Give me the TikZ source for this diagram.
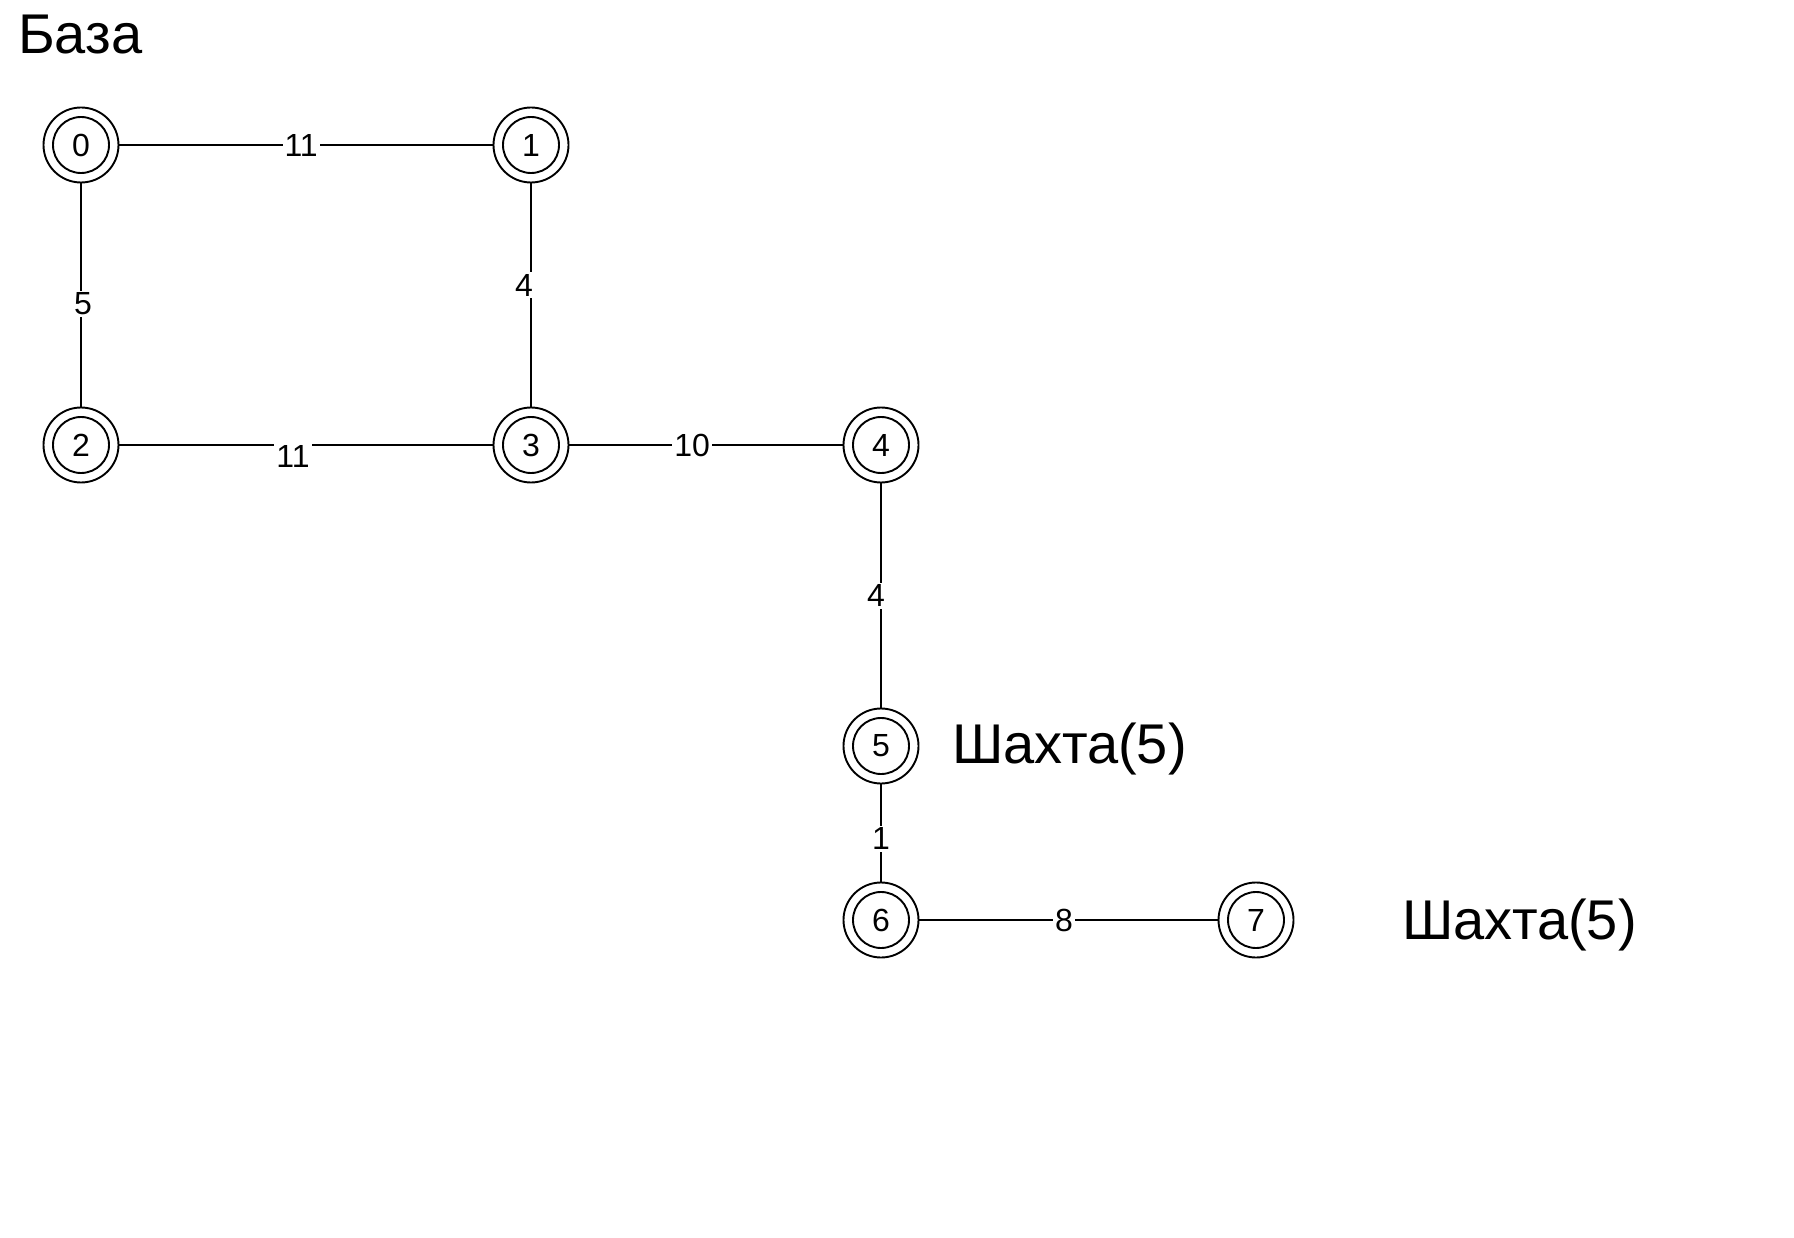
\documentclass[tikz,border=0pt]{standalone}
\usepackage{fontspec}
\setmainfont{Liberation Sans}
\begin{document}
\begin{tikzpicture}[x=1pt,y=-1pt,
  vert/.style={circle, draw, line width=1.9pt, minimum size=75pt, inner sep=0pt,
    font=\fontsize{32}{38}\selectfont,
    path picture={\draw[line width=1.9pt] (path picture bounding box.center) circle (28pt);}},
  wlab/.style={fill=white, inner sep=2pt, font=\fontsize{32}{38}\selectfont},
  biglab/.style={anchor=west, inner sep=0pt, font=\fontsize{56}{64}\selectfont},
  conn/.style={line width=1.9pt}]
\path[use as bounding box, fill=white] (0,0) rectangle (1794,1238);

\node[vert] (n0) at (81,145) {0};
\node[vert] (n1) at (531,145) {1};
\node[vert] (n2) at (81,445) {2};
\node[vert] (n3) at (531,445) {3};
\node[vert] (n4) at (881,445) {4};
\node[vert] (n5) at (881,746) {5};
\node[vert] (n6) at (881,920) {6};
\node[vert] (n7) at (1256,920) {7};

\draw[conn] (n0) -- node[wlab, pos=0.487] (l01) {11} (n1);
\draw[conn] (n2) -- node[wlab, pos=0.465, yshift=-11pt] (l23) {11} (n3);
\draw[conn] (n0) -- node[wlab, pos=0.54, xshift=2pt] (l02) {5} (n2);
\draw[conn] (n1) -- node[wlab, pos=0.456, xshift=-7pt] (l13) {4} (n3);
\draw[conn] (n3) -- node[wlab, pos=0.449] (l34) {10} (n4);
\draw[conn] (n4) -- node[wlab, pos=0.502, xshift=-5pt] (l45) {4} (n5);
\draw[conn] (n5) -- node[wlab, pos=0.56] (l56) {1} (n6);
\draw[conn] (n6) -- node[wlab, pos=0.485] (l67) {8} (n7);

\node[biglab] (base) at (18,35) {База};
\node[biglab] (mine1) at (952,749) {Шахта(5)};
\node[biglab] (mine2) at (1402,925) {Шахта(5)};
\end{tikzpicture}
\end{document}
